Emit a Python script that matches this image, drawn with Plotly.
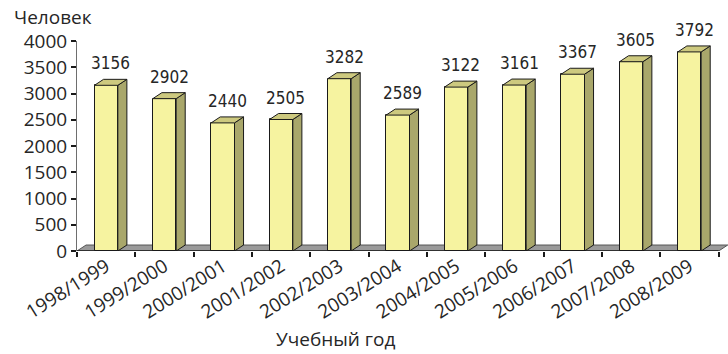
import plotly.graph_objects as go

# Enrolment per academic year
years = ["1998/1999", "1999/2000", "2000/2001", "2001/2002", "2002/2003",
         "2003/2004", "2004/2005", "2005/2006", "2006/2007", "2007/2008",
         "2008/2009"]
students = [3156, 2902, 2440, 2505, 3282, 2589, 3122, 3161, 3367, 3605, 3792]
y_ticks = [0, 500, 1000, 1500, 2000, 2500, 3000, 3500, 4000]

# geometry of the pseudo-3D bars (axis units)
BAR_W = 0.40      # front face width
DEPTH_X = 0.155   # depth offset along x
DEPTH_Y = 114     # depth offset along y
X_MIN, X_MAX = -0.5, 10.66
Y_MAX = 4000

FRONT = "#F6F3A0"
SIDE = "#A9A76B"
TOP = "#CDC97F"
EDGE = "#1a1a1a"
TEXT = "#262626"
LABEL_FONT = "DejaVu Sans Condensed, sans-serif"
AXIS_FONT = "Open Sans, sans-serif"

W, H = 728, 354
M_L, M_R, M_T, M_B = 77, 0, 41, 103

fig = go.Figure()

# front faces
xs = list(range(len(years)))
fig.add_trace(go.Bar(
    x=xs, y=students, width=BAR_W,
    marker=dict(color=FRONT, line=dict(color=EDGE, width=1)),
    hoverinfo="skip", showlegend=False,
))

# side and top faces
for i, v in enumerate(students):
    xl, xr = i - BAR_W / 2, i + BAR_W / 2
    fig.add_trace(go.Scatter(
        x=[xr, xr + DEPTH_X, xr + DEPTH_X, xr, xr],
        y=[0, DEPTH_Y, v + DEPTH_Y, v, 0],
        mode="lines", fill="toself", fillcolor=SIDE,
        line=dict(color=EDGE, width=1), hoverinfo="skip", showlegend=False,
    ))
    fig.add_trace(go.Scatter(
        x=[xl, xr, xr + DEPTH_X, xl + DEPTH_X, xl],
        y=[v, v, v + DEPTH_Y, v + DEPTH_Y, v],
        mode="lines", fill="toself", fillcolor=TOP,
        line=dict(color=EDGE, width=1), hoverinfo="skip", showlegend=False,
    ))
    fig.add_annotation(
        x=i + DEPTH_X / 2, y=v + DEPTH_Y, text=str(v),
        showarrow=False, yanchor="bottom", xanchor="center", yshift=4,
        font=dict(family=LABEL_FONT, size=17, color=TEXT),
    )

# floor
x_end = len(years) - 0.5
fig.add_shape(
    type="path", layer="below", xref="x", yref="y",
    path=(f"M {X_MIN},0 L {x_end},0 L {x_end + DEPTH_X},{DEPTH_Y} "
          f"L {X_MIN + DEPTH_X},{DEPTH_Y} Z"),
    fillcolor="#9A9A9A", line=dict(color="#555555", width=1),
)
fig.add_shape(
    type="line", layer="above", xref="x", yref="y",
    x0=X_MIN, x1=x_end, y0=0, y1=0, line=dict(color=EDGE, width=1.5),
)

plot_w = W - M_L - M_R
plot_h = H - M_T - M_B
fig.add_annotation(
    xref="paper", yref="paper", x=(12 - M_L) / plot_w, y=1 + (M_T - 17) / plot_h,
    text="Человек", showarrow=False, xanchor="left", yanchor="middle",
    font=dict(family=AXIS_FONT, size=19, color=TEXT),
)
fig.add_annotation(
    xref="paper", yref="paper", x=(335 - M_L) / plot_w, y=-(353 - (H - M_B)) / plot_h,
    text="Учебный год", showarrow=False, xanchor="center", yanchor="bottom",
    borderpad=0, font=dict(family=AXIS_FONT, size=19, color=TEXT),
)

fig.update_layout(
    width=W, height=H,
    margin=dict(l=M_L, r=M_R, t=M_T, b=M_B, pad=0),
    plot_bgcolor="white", paper_bgcolor="white",
    xaxis=dict(
        range=[X_MIN, X_MAX], tickmode="array", tickvals=xs, ticktext=years,
        tickangle=-32, ticks="", showgrid=False, zeroline=False, showline=False,
        tickfont=dict(family=AXIS_FONT, size=19, color=TEXT),
        minor=dict(tickmode="array", tickvals=[k - 0.5 for k in range(len(years) + 1)],
                   ticks="outside", ticklen=5, tickcolor=EDGE, tickwidth=1.5,
                   showgrid=False),
    ),
    yaxis=dict(
        range=[0, Y_MAX], tickmode="array", tickvals=y_ticks,
        ticks="outside", ticklen=5, tickcolor=EDGE, tickwidth=1.5,
        showgrid=False, zeroline=False, showline=True, linecolor="#6e6e6e",
        tickfont=dict(family=AXIS_FONT, size=19, color=TEXT),
    ),
    bargap=0,
)

fig.write_html("out.html")
